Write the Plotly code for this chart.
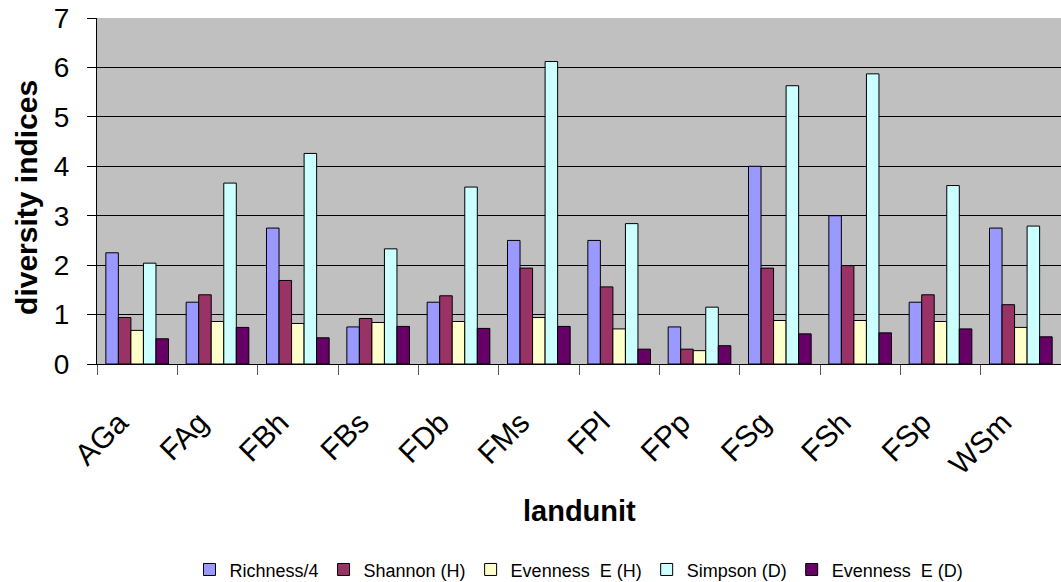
import plotly.graph_objects as go

landunits = ["AGa", "FAg", "FBh", "FBs", "FDb", "FMs", "FPl", "FPp", "FSg", "FSh", "FSp", "WSm"]

richness_4 = [2.25, 1.25, 2.75, 0.75, 1.25, 2.5, 2.5, 0.75, 4.0, 3.0, 1.25, 2.75]
shannon_h = [0.94, 1.40, 1.69, 0.92, 1.38, 1.94, 1.56, 0.30, 1.94, 1.99, 1.40, 1.20]
evenness_h = [0.68, 0.86, 0.82, 0.84, 0.86, 0.94, 0.71, 0.27, 0.88, 0.88, 0.86, 0.74]
simpson_d = [2.04, 3.66, 4.26, 2.33, 3.58, 6.12, 2.84, 1.15, 5.63, 5.87, 3.61, 2.79]
evenness_d = [0.51, 0.74, 0.53, 0.76, 0.72, 0.76, 0.30, 0.37, 0.61, 0.63, 0.71, 0.55]

series_names = ["Richness/4", "Shannon (H)", "Evenness\u00a0 E (H)", "Simpson (D)", "Evenness\u00a0 E (D)"]
series_values = [richness_4, shannon_h, evenness_h, simpson_d, evenness_d]
series_colors = ["#9999FF", "#993366", "#FFFFCC", "#CCFFFF", "#660066"]

font_family = "Liberation Sans, Arial, sans-serif"

fig = go.Figure()
for name, vals, col in zip(series_names, series_values, series_colors):
    fig.add_trace(go.Bar(
        x=landunits, y=vals, name=name,
        marker=dict(color=col, line=dict(color="#000000", width=1)),
    ))

fig.update_layout(
    width=1061, height=582,
    margin=dict(l=97, r=0, t=18, b=218, pad=0, autoexpand=False),
    paper_bgcolor="#FFFFFF",
    plot_bgcolor="#C0C0C0",
    barmode="group",
    bargap=0.22,
    bargroupgap=0,
    font=dict(family=font_family, color="#000000"),
    showlegend=True,
    legend=dict(
        orientation="h", xref="paper", x=0.50, xanchor="center",
        yref="container", y=0.021, yanchor="middle",
        font=dict(size=18, family=font_family), itemwidth=30,
        tracegroupgap=0, bgcolor="rgba(0,0,0,0)",
    ),
    xaxis=dict(
        type="category", range=[-0.5, 11.5], automargin=False,
        tickson="boundaries", ticks="outside", ticklen=10, tickcolor="#555555",
        tickangle=-45, tickfont=dict(size=30), ticklabelstandoff=28,
        ticklabelshift=-18,
        showline=True, linecolor="#000000", linewidth=1,
        showgrid=False, zeroline=False,
    ),
    yaxis=dict(
        range=[0, 7], dtick=1, automargin=False,
        ticks="outside", ticklen=9, tickcolor="#000000",
        tickfont=dict(size=28), ticklabelstandoff=12,
        showline=True, linecolor="#000000", linewidth=1,
        showgrid=True, gridcolor="#000000", gridwidth=1, zeroline=False,
    ),
    annotations=[
        dict(text="<b>diversity indices</b>", xref="paper", yref="paper",
             x=-0.0726, y=0.48, xanchor="center", yanchor="middle", textangle=-90,
             showarrow=False, font=dict(size=30, family=font_family)),
        dict(text="<b>landunit</b>", xref="paper", yref="paper",
             x=0.501, y=-0.425, xanchor="center", yanchor="middle",
             showarrow=False, font=dict(size=29, family=font_family)),
    ],
)

fig.write_html("out.html")
